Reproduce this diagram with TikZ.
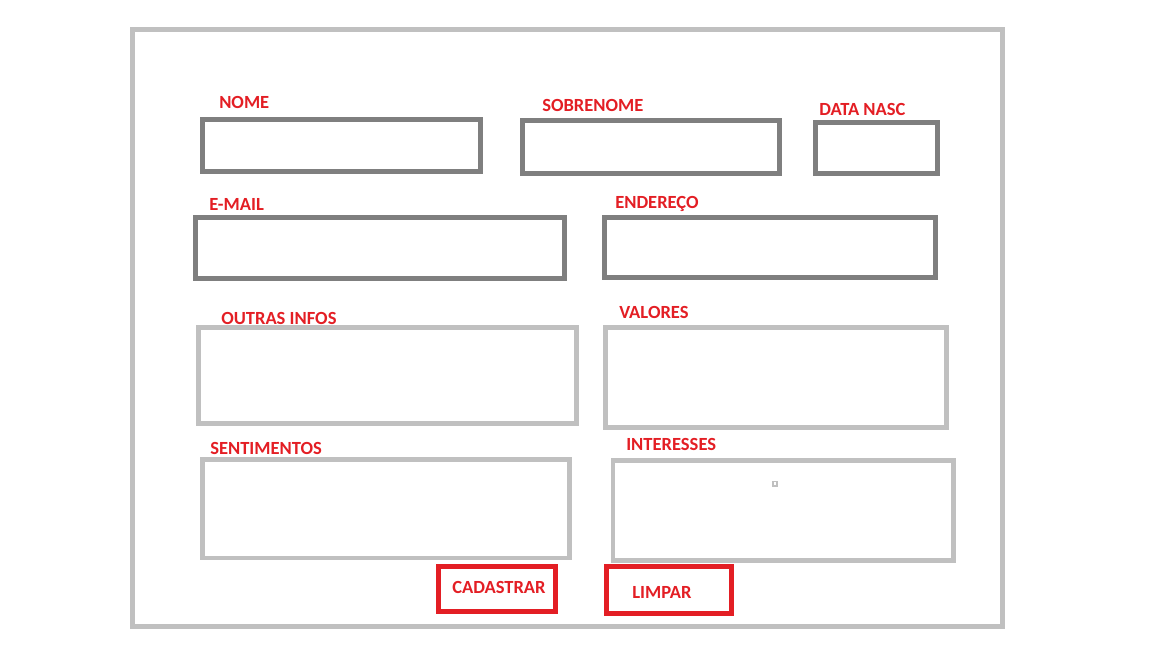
\documentclass[tikz,border=0pt]{standalone}
\usepackage{fontspec}
\setmainfont{Carlito}
\usetikzlibrary{fit}
\definecolor{formred}{RGB}{227,30,36}
\definecolor{darkline}{RGB}{127,127,127}
\definecolor{lightline}{RGB}{192,192,192}
\tikzset{
  darkfield/.style={draw=darkline, line width=3.75pt, inner sep=0pt},
  lightfield/.style={draw=lightline, line width=3.4pt, inner sep=0pt},
  button/.style={draw=formred, line width=3.75pt, inner sep=0pt},
  lbl/.style={text=formred, font=\fontsize{13.9}{16}\selectfont\bfseries, inner sep=0pt, anchor=base west}
}
\begin{document}
\begin{tikzpicture}[x=0.75pt, y=-0.75pt]
\useasboundingbox (0,0) rectangle (1152,648);
\node[draw=lightline, line width=3.75pt, inner sep=0pt, fit={(132.5,29.5) (1002.5,626.5)}] (frame) {};

\node[darkfield, fit={(202.5,119.5) (480.5,171.5)}] (nome) {};
\node[darkfield, fit={(522.5,120.5) (779.5,173.5)}] (sobrenome) {};
\node[darkfield, fit={(815.5,122.5) (937.5,173.5)}] (datanasc) {};
\node[darkfield, fit={(195.5,217.5) (564.5,278.5)}] (email) {};
\node[darkfield, fit={(604.5,217.5) (935.5,277.5)}] (endereco) {};

\node[lightfield, fit={(198.5,327.5) (576.5,423.5)}] (outras) {};
\node[lightfield, fit={(605.5,327.5) (946.5,427.5)}] (valores) {};
\node[lightfield, fit={(202.5,459.5) (569.5,558)}] (sentimentos) {};
\node[lightfield, fit={(613,460.5) (953.5,560.5)}] (interesses) {};
\node[draw=lightline, line width=1.2pt, minimum size=3.3pt, inner sep=0pt] (dot) at (775,483.5) {};

\node[button, fit={(438.5,566.5) (555.5,611.5)}] (cadastrar) {};
\node[button, fit={(606.5,566.5) (731.5,613.5)}] (limpar) {};

\node[lbl] (nomelbl) at (219,108.3) {NOME};
\node[lbl] (sobrenomelbl) at (542,111.7) {SOBRENOME};
\node[lbl] (datanasclbl) at (819,116) {DATA NASC};
\node[lbl] (emaillbl) at (209,210.7) {E-MAIL};
\node[lbl] (enderecolbl) at (615,208.5) {ENDEREÇO};
\node[lbl] (outraslbl) at (221,325) {OUTRAS INFOS};
\node[lbl] (valoreslbl) at (619,319) {VALORES};
\node[lbl] (sentimentoslbl) at (210,454) {SENTIMENTOS};
\node[lbl] (interesseslbl) at (626,450.7) {INTERESSES};
\node[lbl] (cadastrarlbl) at (452,593) {CADASTRAR};
\node[lbl] (limparlbl) at (632,598) {LIMPAR};
\end{tikzpicture}
\end{document}
